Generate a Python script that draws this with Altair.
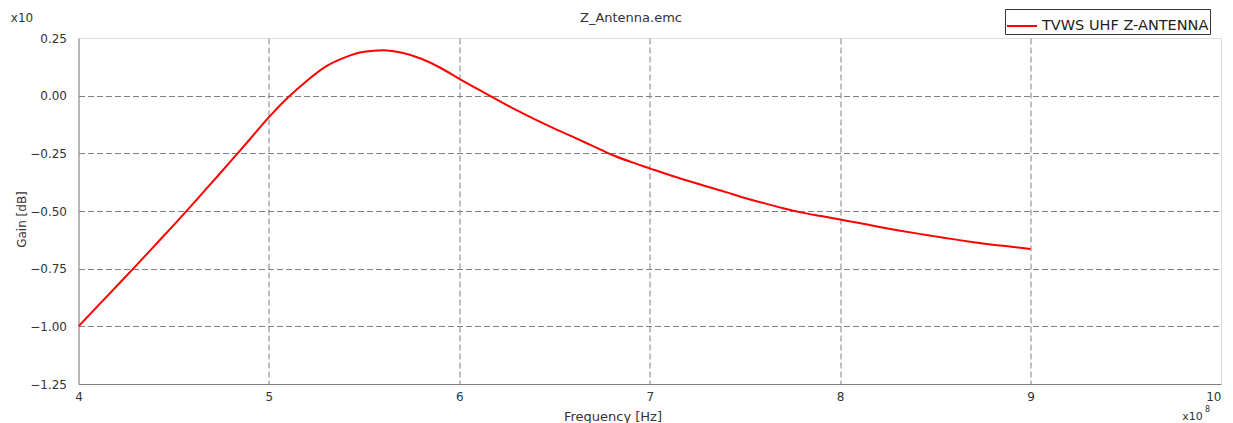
import altair as alt
import pandas as pd

# ---- data (gain shown in units of x10 dB) ----
freq = [4.0, 4.1, 4.2, 4.3, 4.4, 4.5, 4.6, 4.7, 4.8, 4.9,
        5.0, 5.1, 5.2, 5.3, 5.4, 5.5, 5.6, 5.7, 5.8, 5.9,
        6.0, 6.1, 6.2, 6.3, 6.4, 6.5, 6.6, 6.7, 6.8, 6.9,
        7.0, 7.1, 7.2, 7.3, 7.4, 7.5, 7.6, 7.7, 7.8, 7.9,
        8.0, 8.1, 8.2, 8.3, 8.4, 8.5, 8.6, 8.7, 8.8, 8.9, 9.0]
gain = [-1.000, -0.913, -0.826, -0.739, -0.650, -0.561, -0.470, -0.377, -0.284, -0.189,
        -0.093, -0.008, 0.065, 0.127, 0.166, 0.190, 0.197, 0.186, 0.160, 0.121,
        0.073, 0.027, -0.018, -0.063, -0.104, -0.143, -0.180, -0.218, -0.256, -0.287,
        -0.315, -0.343, -0.369, -0.394, -0.418, -0.444, -0.466, -0.488, -0.507, -0.522,
        -0.537, -0.552, -0.568, -0.583, -0.597, -0.610, -0.623, -0.635, -0.646, -0.655, -0.665]
series_name = "TVWS UHF Z-ANTENNA"
x_ticks = [4, 5, 6, 7, 8, 9, 10]
y_ticks = [-1.25, -1.0, -0.75, -0.5, -0.25, 0.0, 0.25]
chart_title = "Z_Antenna.emc"
x_title = "Frequency [Hz]"
y_title = "Gain [dB]"

df = pd.DataFrame({"freq": freq, "gain": gain, "series": series_name})

FONT = "DejaVu Sans"
TXT = "#333333"
GRID = "#808080"

x_axis = alt.Axis(
    values=x_ticks, format="d", title=x_title,
    grid=True, gridColor=GRID, gridDash=[6, 3], gridWidth=1,
    gridOpacity={"condition": {"test": "datum.value == 4 || datum.value == 10", "value": 0}, "value": 1},
    ticks=False, tickSize=0, domainColor=GRID, domainWidth=1,
    labelPadding=7, labelFont=FONT, labelFontSize=12, labelColor=TXT,
    labelAlign={"condition": {"test": "datum.value == 10", "value": "right"}, "value": "center"},
    titleX=534, titleY=32, titleAlign="center", titleBaseline="middle",
    titleFont=FONT, titleFontSize=13, titleFontWeight="normal", titleColor=TXT,
)
y_axis = alt.Axis(
    values=y_ticks, format=".2f", title=y_title,
    grid=True, gridColor=GRID, gridDash=[6, 3], gridWidth=1,
    gridOpacity={"condition": {"test": "datum.value == 0.25 || datum.value == -1.25", "value": 0}, "value": 1},
    ticks=False, tickSize=0, domainColor=GRID, domainWidth=1,
    labelPadding=12, labelFont=FONT, labelFontSize=12, labelColor=TXT,
    titleX=-57.5, titleY=181, titleAngle=270, titleAlign="center", titleBaseline="middle",
    titleFont=FONT, titleFontSize=12, titleFontWeight="normal", titleColor=TXT,
)

line = alt.Chart(df).mark_line(strokeWidth=2, interpolate="monotone", clip=True).encode(
    x=alt.X("freq:Q", scale=alt.Scale(domain=[4, 10], nice=False, zero=False), axis=x_axis),
    y=alt.Y("gain:Q", scale=alt.Scale(domain=[-1.25, 0.25], nice=False, zero=False), axis=y_axis),
    color=alt.Color(
        "series:N",
        scale=alt.Scale(domain=[series_name], range=["#ff0000"]),
        legend=alt.Legend(
            title=None, orient="none", legendX=926.5, legendY=-29,
            symbolType="stroke", symbolSize=900, symbolStrokeWidth=2,
            labelFont=FONT, labelFontSize=14.5, labelColor="#222222", labelLimit=400, labelOffset=4,
            strokeColor="#333333", fillColor="white", padding=1,
        ),
    ),
)

def label(text, x, y, size, align="center"):
    return alt.Chart(pd.DataFrame({"t": [text]})).mark_text(
        font=FONT, fontSize=size, color=TXT, align=align, baseline="middle"
    ).encode(text="t:N", x=alt.value(x), y=alt.value(y))

title_txt = label(chart_title, 552.5, -20, 13)
ymult = label("x10", -56.5, -20, 12)
xmult = label("x10", 1114, 379, 11)
xexp = label("8", 1129, 372, 8)

chart = alt.layer(line, title_txt, ymult, xmult, xexp).properties(
    width=1142.5, height=346,
    autosize=alt.AutoSizeParams(type="none"),
    padding={"left": 70.5, "top": 30, "right": 4, "bottom": 39},
).configure_view(stroke="#000000", strokeWidth=1).configure(background="white")

chart.save("out.html", embed_options={"renderer": "svg", "actions": False})
